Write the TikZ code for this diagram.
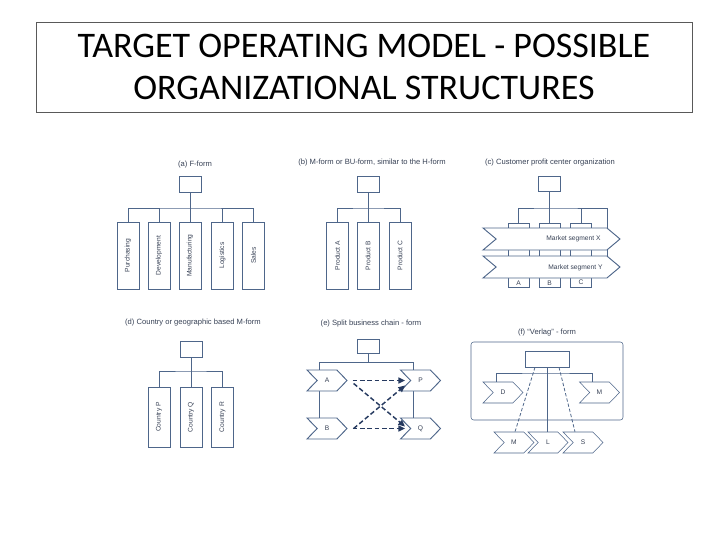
\documentclass[tikz,border=0pt]{standalone}
\usepackage{fontspec}
\setmainfont{Carlito}
\newfontfamily\diagfont{Liberation Sans}
\usetikzlibrary{positioning,arrows.meta,shapes.symbols,calc,backgrounds}
\definecolor{orgblue}{RGB}{78,102,138}
\definecolor{orgnavy}{RGB}{38,58,96}
\definecolor{orgtext}{RGB}{55,65,85}

\begin{document}
\begin{tikzpicture}[x=0.75pt,y=-0.75pt,
  font=\diagfont\fontsize{5}{6}\selectfont,
  line width=0.7pt,
  head/.style={rectangle, draw=orgblue, fill=white, minimum width=16.5pt,
               minimum height=11.5pt, inner sep=0pt},
  unit/.style={rectangle, draw=orgblue, fill=white, minimum width=16.5pt,
               minimum height=50.25pt, inner sep=0pt, text=orgtext},
  pcol/.style={rectangle, draw=orgblue, fill=white, minimum width=15.75pt,
               minimum height=48pt, inner sep=0pt},
  chev/.style={signal, signal from=west, signal to=east, signal pointer angle=92,
               draw=orgblue, fill=white, minimum width=30pt, minimum height=15.75pt,
               inner sep=0pt, text=orgtext},
  segchev/.style={chev, signal pointer angle=80, minimum width=102.75pt,
                  minimum height=16.5pt},
  ptitle/.style={font=\diagfont\fontsize{5.7}{7}\selectfont, text=orgtext},
  lab/.style={text=orgtext, inner sep=1.5pt},
  link/.style={draw=orgblue},
  darr/.style={-{Triangle[length=5pt,width=4.5pt]}, orgnavy, line width=1.1pt,
               dash pattern=on 3.5pt off 2pt},
  thin dash/.style={draw=orgblue, line width=0.6pt, dash pattern=on 2.5pt off 1.5pt}
]
\useasboundingbox (0,0) rectangle (728,546);

% title
\node[draw=black!65, line width=0.75pt, minimum width=492pt, minimum height=67.5pt,
      inner sep=0pt, align=center, text=black, font=\fontsize{27}{31.5}\selectfont]
  (title) at (364,67) {TARGET OPERATING MODEL - POSSIBLE\\ORGANIZATIONAL STRUCTURES};

% (a) F-form
\node[ptitle] (acap) at (195,165) {(a) F-form};
\node[head] (a0) at (190.5,184.5) {};
\foreach \n/\x/\t in {1/128/Purchasing,2/159/Development,3/190/Manufacturing,
                      4/222.5/Logistics,5/253.5/Sales}
  \node[unit] (a\n) at (\x,255.5) {\rotatebox{90}{\t}};
\coordinate (abar) at (190,208);
\draw[link] (a0.south) -- (a0.south |- abar);
\draw[link] (a1.north) |- (abar) -| (a5.north);
\foreach \n in {2,3,4}
  \draw[link] (a\n.north) -- (a\n.north |- abar);

% (b) M-form
\node[ptitle] (bcap) at (372,163) {(b) M-form or BU-form, similar to the H-form};
\node[head] (b0) at (368.5,184.5) {};
\foreach \n/\x/\t in {1/337.5/Product A,2/368/Product B,3/400/Product C}
  \node[unit] (b\n) at (\x,255.5) {\rotatebox{90}{\t}};
\coordinate (bbar) at (368,208);
\draw[link] (b0.south) -- (b0.south |- bbar);
\draw[link] (b1.north) |- (bbar) -| (b3.north);
\draw[link] (b2.north) -- (b2.north |- bbar);

% (c) customer profit centers
\node[ptitle] (ccap) at (550,163) {(c) Customer profit center organization};
\node[head] (c0) at (549,184) {};
\foreach \n/\x/\t in {1/518.5/A,2/549.5/B,3/581/C}
  \node[pcol, label={[lab, anchor=south]south:\t}] (c\n) at (\x,255) {};
\coordinate (cbar) at (549,208);
\coordinate (cend) at (607,256);
\draw[link] (c0.south) -- (c0.south |- cbar);
\draw[link] (c1.north) |- (cbar) -| (cend);
\foreach \n in {2,3}
  \draw[link] (c\n.north) -- (c\n.north |- cbar);
\node[segchev] (segX) at (551.5,239) {};
\node[segchev] (segY) at (551.5,267) {};
\node[lab, anchor=east] (segXt) at (603,239) {Market segment X};
\node[lab, anchor=east] (segYt) at (605,268) {Market segment Y};

% (d) country M-form
\node[ptitle] (dcap) at (193,323) {(d) Country or geographic based M-form};
\node[head, minimum height=12pt] (d0) at (191,349) {};
\foreach \n/\x/\t in {1/159/Country P,2/191/Country Q,3/222.5/Country R}
  \node[unit, minimum height=45pt] (d\n) at (\x,417) {\rotatebox{90}{\t}};
\coordinate (dbar) at (191,371);
\draw[link] (d0.south) -- (d0.south |- dbar);
\draw[link] (d1.north) |- (dbar) -| (d3.north);
\draw[link] (d2.north) -- (d2.north |- dbar);

% (e) split business chain
\node[ptitle] (ecap) at (371,324) {(e) Split business chain - form};
\node[head, minimum height=10.5pt] (e0) at (368.5,346) {};
\node[chev] (eA) at (327,380.5) {A};
\node[chev] (eB) at (327,428.5) {B};
\node[chev] (eP) at (420.5,380.5) {P};
\node[chev] (eQ) at (420.5,428.5) {Q};
\coordinate (el) at (319,362);
\coordinate (er) at (413,362);
\begin{pgfonlayer}{background}
  \draw[link] (e0.south) -- (e0.south |- el);
  \draw[link] (el |- eB.north) -- (el) -- (er) -- (er |- eQ.north);
\end{pgfonlayer}
\draw[darr] ($(eA.east)+(5,0)$) -- ($(eP.west)+(-5,0)$);
\draw[darr] ($(eB.east)+(5,0)$) -- ($(eQ.west)+(-5,0)$);
\draw[darr] ($(eA.east)+(6,3)$) -- ($(eQ.west)+(-5,-2)$);
\draw[darr] ($(eB.east)+(6,0)$) -- ($(eP.west)+(-5,5)$);

% (f) Verlag-form
\node[ptitle] (fcap) at (547,333) {(f) “Verlag” - form};
\node[draw=orgblue, rounded corners=2pt, minimum width=114pt, minimum height=58.5pt,
      inner sep=0pt] (fframe) at (547,381) {};
\node[head, minimum width=33pt, minimum height=12pt] (f0) at (547,359) {};
\node[chev] (fD) at (503,392.5) {D};
\node[chev] (fM) at (599.5,392.5) {M};
\node[chev] (fm) at (514,442.5) {M};
\node[chev] (fL) at (548,442.5) {L};
\node[chev] (fS) at (583,442.5) {S};
\coordinate (fbar) at (547,373);
\begin{pgfonlayer}{background}
  \draw[link] ($(fD.north)+(-7,0)$) |- (fbar) -| ($(fM.north)+(-7.5,0)$);
\end{pgfonlayer}
\draw[link, line width=0.6pt] (f0.south) -- (f0.south |- fL.north);
\draw[thin dash] ($(f0.south)+(-12,0)$) -- ($(fm.north)+(1,0)$);
\draw[thin dash] ($(f0.south)+(12,0)$) -- ($(fS.north)+(-8,0)$);
\end{tikzpicture}
\end{document}
